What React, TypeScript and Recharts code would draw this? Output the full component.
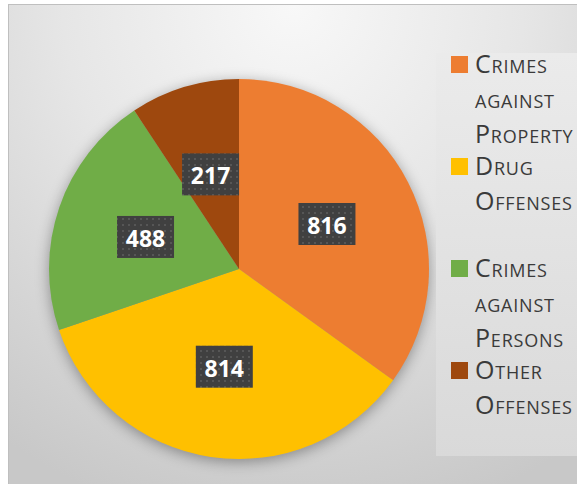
import { PieChart, Pie, Cell, Legend } from 'recharts'

const categories = ['Crimes against Property', 'Drug Offenses', 'Crimes against Persons', 'Other Offenses']
const counts = [816, 814, 488, 217]
const colors = ['#ED7D31', '#FFC000', '#70AD47', '#9E480E']

const data = categories.map((name, i) => ({ name, value: counts[i] }))

const RADIAN = Math.PI / 180

function BoxLabel (props: any) {
  const { cx, cy, midAngle, outerRadius, value } = props
  const r = outerRadius * 0.52
  const x = cx + r * Math.cos(-midAngle * RADIAN)
  const y = cy + r * Math.sin(-midAngle * RADIAN)
  return (
    <g>
      <rect x={x - 28.5} y={y - 21} width={57} height={42} fill="url(#dots)" />
      <text
        x={x}
        y={y + 1}
        textAnchor="middle"
        dominantBaseline="central"
        fill="#fff"
        fontFamily="'Open Sans', sans-serif"
        fontWeight={700}
        fontSize={23}
      >
        {value}
      </text>
    </g>
  )
}

function LegendBox ({ payload }: any) {
  // keep the data order, not the legend's default sort
  const items = [...(payload || [])].sort(
    (a: any, b: any) => categories.indexOf(a.value) - categories.indexOf(b.value)
  )
  return (
    <div style={{ position: 'relative', width: 141, height: 403, background: 'linear-gradient(#ebebeb, #d9d9d9)' }}>
      {items.map((p: any, i: number) => (
        <div key={p.value} style={{ position: 'absolute', left: 0, top: -7 + i * 102, width: 141 }}>
          <span style={{ position: 'absolute', left: 15, top: 10, width: 17, height: 17, background: colors[categories.indexOf(p.value)] }} />
          <div
            style={{
              marginLeft: 39,
              width: 100,
              fontFamily: "'Open Sans', sans-serif",
              fontSize: 25,
              letterSpacing: 0.8,
              lineHeight: '35px',
              fontVariant: 'small-caps',
              color: '#3a3a3a',
              whiteSpace: 'normal'
            }}
          >
            {p.value}
          </div>
        </div>
      ))}
    </div>
  )
}

export default function App () {
  return (
    <div style={{ position: 'relative', width: 577, height: 484, overflow: 'hidden' }}>
      <style>{`
        body { margin: 0; overflow: hidden; }
        .recharts-pie { filter: drop-shadow(0 3px 7px rgba(0,0,0,0.35)); }
      `}</style>
      <div
        style={{
          position: 'absolute',
          left: 8,
          top: 4,
          width: 569,
          height: 480,
          borderTop: '1px solid #bfbfbf',
          borderLeft: '1px solid #bfbfbf',
          boxSizing: 'border-box',
          background: 'radial-gradient(ellipse 90% 110% at 50% 0%, #f8f8f8 0%, #e6e6e6 45%, #c8c8c8 100%)'
        }}
      />
      <div style={{ position: 'absolute', left: 0, top: 0 }}>
        <PieChart width={577} height={484} margin={{ top: 0, right: 0, bottom: 0, left: 0 }}>
          <defs>
            <pattern id="dots" width={6} height={6} patternUnits="userSpaceOnUse">
              <rect width={6} height={6} fill="#404040" />
              <rect x={2} y={2} width={2} height={2} fill="#565656" />
            </pattern>
          </defs>
          <Pie
            data={data}
            dataKey="value"
            nameKey="name"
            cx={239}
            cy={269}
            outerRadius={190}
            startAngle={90}
            endAngle={-270}
            stroke="none"
            label={BoxLabel}
            labelLine={false}
            isAnimationActive={false}
          >
            {data.map((d, i) => (
              <Cell key={d.name} fill={colors[i]} />
            ))}
          </Pie>
          <Legend
            layout="vertical"
            content={<LegendBox />}
            wrapperStyle={{ position: 'absolute', left: 436, top: 53, width: 141, height: 403 }}
          />
        </PieChart>
      </div>
    </div>
  )
}
